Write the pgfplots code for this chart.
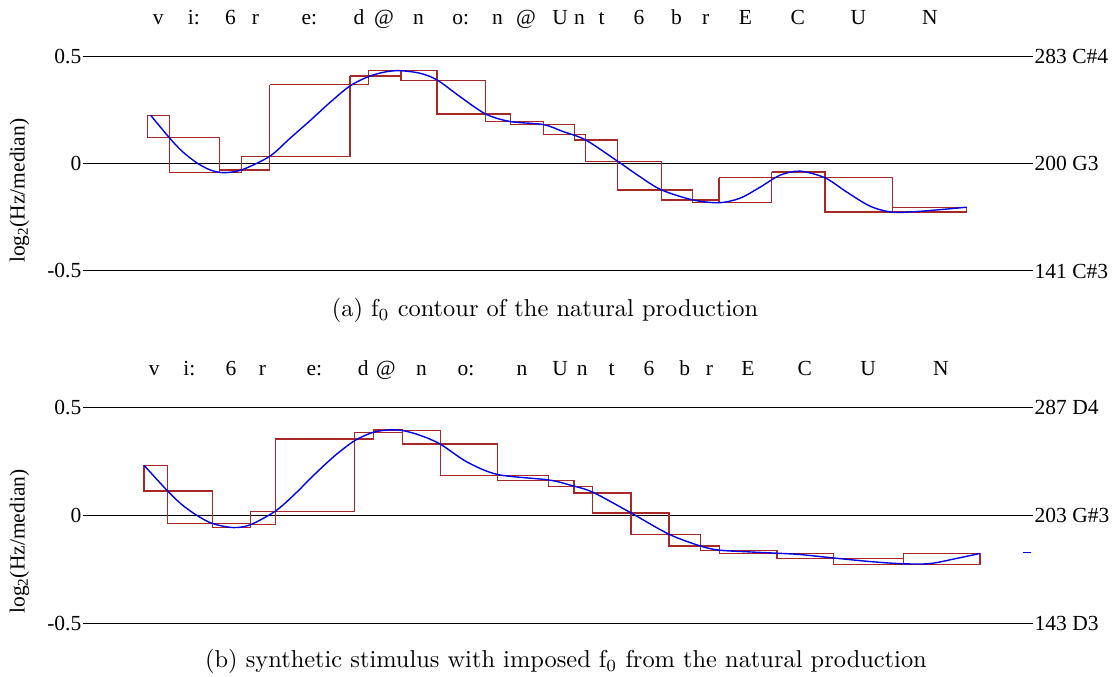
\documentclass[border=0pt]{standalone}
\usepackage{fontspec}
\usepackage{pgfplots}
\pgfplotsset{compat=1.18}
\newfontfamily\tms{Liberation Serif}
\newcommand{\tf}{\tms\fontsize{21.5bp}{24bp}\selectfont}
\definecolor{boxred}{RGB}{168,40,40}
\definecolor{curveblue}{RGB}{0,0,235}
\pgfplotsset{
  f0axis/.style={
    scale only axis, width=944bp, xmin=86, xmax=1030, ymin=-0.5, ymax=0.5,
    axis line style={draw=none}, xtick=\empty,
    ytick={-0.5,0,0.5}, yticklabels={-0.5,0,0.5},
    ymajorgrids, grid style={black, line width=1bp},
    tick align=outside, major tick length=3bp,
    ytick style={black, line width=1bp},
    yticklabel style={font=\tf, inner sep=1.5bp},
    /pgf/number format/assume math mode=true,
    clip=false, anchor=south west,
  },
  bx/.style={boxred, line width=1.35bp, line join=miter, forget plot},
  cv/.style={curveblue, line width=1.4bp, smooth, forget plot},
}
\newcommand{\bx}[4]{\addplot[bx] coordinates {(#1,#3) (#2,#3) (#2,#4) (#1,#4) (#1,#3)};}
\begin{document}
\begin{tikzpicture}[x=1bp,y=1bp]
\useasboundingbox (0,0) rectangle (1115,677);
% ---------------- top panel ----------------
\begin{axis}[f0axis, at={(86bp,406bp)}, height=214.7bp]
\bx{147.3}{169.3}{0.225}{0.121}
\bx{169.3}{219.3}{0.121}{-0.042}
\bx{219.3}{241.7}{-0.029}{-0.042}
\bx{241.7}{269.7}{0.034}{-0.029}
\bx{269.7}{350}{0.368}{0.034}
\bx{350}{368.3}{0.408}{0.368}
\bx{368.3}{401}{0.433}{0.408}
\bx{401}{437}{0.433}{0.388}
\bx{437}{485.7}{0.388}{0.231}
\bx{485.7}{510.3}{0.231}{0.196}
\bx{510.3}{543.3}{0.196}{0.182}
\bx{543.3}{574.3}{0.182}{0.137}
\bx{574.3}{585.7}{0.135}{0.110}
\bx{585.7}{617.7}{0.110}{0.011}
\bx{617.7}{661.3}{0.011}{-0.122}
\bx{661.3}{692.7}{-0.122}{-0.170}
\bx{692.7}{719}{-0.170}{-0.182}
\bx{719}{771.7}{-0.065}{-0.182}
\bx{771.7}{825}{-0.039}{-0.065}
\bx{825}{892.3}{-0.065}{-0.226}
\bx{892.3}{966.7}{-0.203}{-0.226}
\addplot[cv] coordinates {
(150.7,0.225) (169.3,0.121) (182,0.058) (196.7,0.004) (210,-0.029)
(223.3,-0.042) (241.7,-0.029) (269.7,0.034) (290,0.118)
(310,0.200) (330,0.285) (350,0.362) (368.3,0.405) (385,0.427) (400,0.433)
(420,0.421) (437,0.390) (460,0.312) (485.7,0.231) (510.3,0.196) (543.3,0.182)
(563.3,0.149) (585.7,0.110) (617.7,0.011) (640,-0.061) (661.3,-0.122)
(692.7,-0.169) (719,-0.182) (740,-0.161) (760,-0.110) (780,-0.054)
(800,-0.035) (825,-0.066) (846,-0.130) (870,-0.198) (892.3,-0.226) (920,-0.222)
(966.7,-0.203)};
\node[anchor=west, font=\tf, inner sep=1.5bp] at (axis cs:1033,0.5) {283 C\#4};
\node[anchor=west, font=\tf, inner sep=1.5bp] at (axis cs:1033,0) {200 G3};
\node[anchor=west, font=\tf, inner sep=1.5bp] at (axis cs:1033,-0.5) {141 C\#3};
\end{axis}
% ---------------- bottom panel ----------------
\begin{axis}[f0axis, at={(86bp,53.7bp)}, height=215.6bp]
\bx{144}{167.7}{0.233}{0.113}
\bx{167.7}{212.3}{0.113}{-0.037}
\bx{212.3}{250.3}{-0.037}{-0.056}
\bx{250.3}{275.3}{0.020}{-0.042}
\bx{275.3}{354.7}{0.354}{0.020}
\bx{354.7}{373.3}{0.385}{0.354}
\bx{373.3}{402.7}{0.397}{0.385}
\bx{402.7}{440.3}{0.394}{0.332}
\bx{440.3}{497.7}{0.332}{0.186}
\bx{497.7}{548.3}{0.186}{0.162}
\bx{548.3}{574}{0.162}{0.135}
\bx{574}{592.7}{0.135}{0.105}
\bx{592.7}{631}{0.105}{0.012}
\bx{631}{669}{0.012}{-0.087}
\bx{669}{700.7}{-0.087}{-0.142}
\bx{700.7}{719.7}{-0.142}{-0.162}
\bx{719.7}{777}{-0.162}{-0.175}
\bx{777}{833.3}{-0.176}{-0.199}
\bx{833.3}{903.7}{-0.199}{-0.226}
\bx{903.7}{980}{-0.176}{-0.226}
\addplot[cv] coordinates {
(144,0.233) (167.7,0.113) (182,0.050) (196.7,0.001) (212.3,-0.037) (233.3,-0.056)
(250.3,-0.043) (275.3,0.020) (295,0.100) (313.3,0.185) (335,0.278) (355,0.348)
(373.3,0.386) (390,0.397) (402.7,0.394) (420,0.372) (440.3,0.331) (466.7,0.249) (497.7,0.190)
(548.3,0.165) (570,0.141) (592.7,0.108) (631,0.012) (669,-0.087)
(700.7,-0.142) (719.7,-0.161) (750,-0.169) (777,-0.175) (800,-0.181) (833.3,-0.197)
(873.3,-0.215) (903.7,-0.224) (930,-0.223) (956.7,-0.199) (980,-0.176)};
\addplot[curveblue, line width=1.4bp, forget plot] coordinates {(1023,-0.173) (1031,-0.173)};
\node[anchor=west, font=\tf, inner sep=1.5bp] at (axis cs:1033,0.5) {287 D4};
\node[anchor=west, font=\tf, inner sep=1.5bp] at (axis cs:1033,0) {203 G\#3};
\node[anchor=west, font=\tf, inner sep=1.5bp] at (axis cs:1033,-0.5) {143 D3};
\end{axis}
% ---------------- phoneme labels ----------------
\foreach \x/\t in {158.2/v, 193.9/i:, 230.4/6, 255.4/r, 309.3/e:, 358.9/d, 383.9/@, 418.6/n, 460.7/o:, 497.5/n, 526/@, 560.2/U, 579.6/n, 601.6/t, 639/6, 676.4/b, 705.7/r, 745.4/E, 797.8/C, 858.3/U, 929.8/N}
  \node[anchor=base, font=\tf, inner sep=0pt] at (\x,652) {\t};
\foreach \x/\t in {154.3/v, 189.3/i:, 231/6, 262.5/r, 314.3/e:, 363.2/d, 385.7/@, 421.4/n, 466/o:, 522/n, 560.2/U, 582.2/n, 611.5/t, 648.9/6, 684.8/b, 709.4/r, 747.9/E, 804.8/C, 868.2/U, 940.8/N}
  \node[anchor=base, font=\tf, inner sep=0pt] at (\x,301) {\t};
% ---------------- y labels ----------------
\node[rotate=90, font=\tf, inner sep=0pt] at (19.6,486.3) {log\textsubscript{2}(Hz/median)};
\node[rotate=90, font=\tf, inner sep=0pt] at (19.6,135.5) {log\textsubscript{2}(Hz/median)};
% ---------------- captions ----------------
\node[anchor=base, scale=2.45, inner sep=0pt] at (545,360) {(a) f$_0$ contour of the natural production};
\node[anchor=base, scale=2.45, inner sep=0pt] at (566,9) {(b) synthetic stimulus with imposed f$_0$ from the natural production};
\end{tikzpicture}
\end{document}
